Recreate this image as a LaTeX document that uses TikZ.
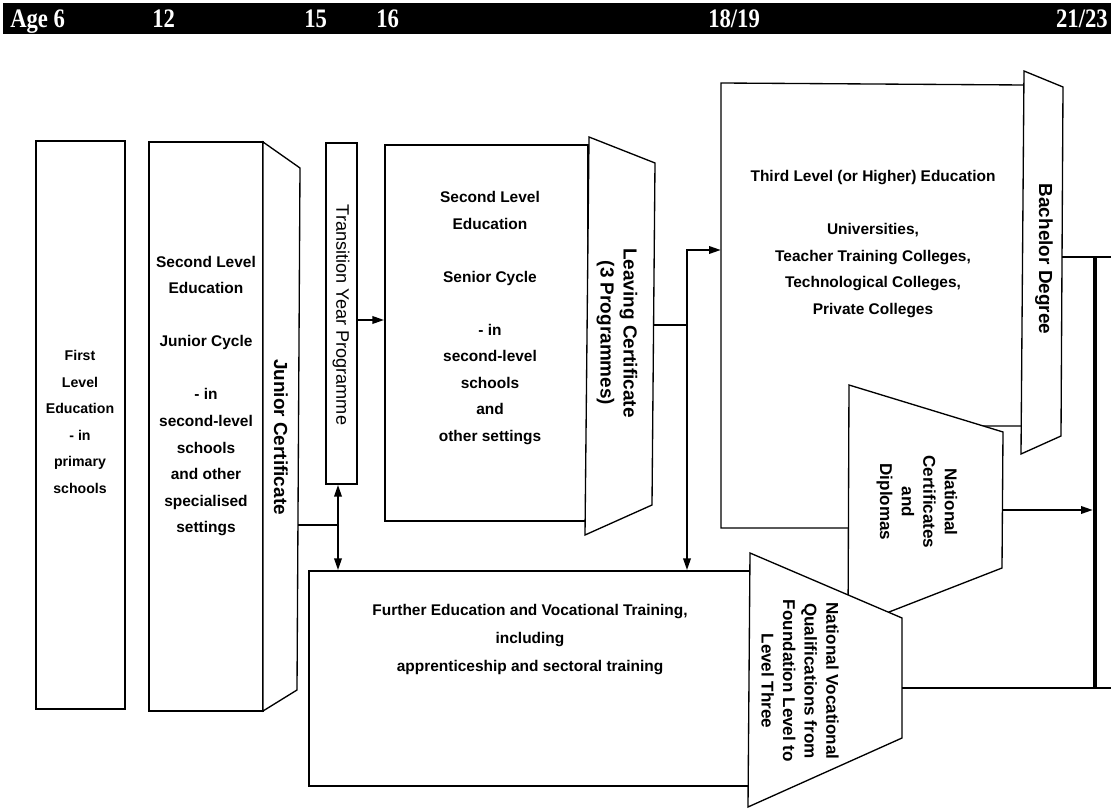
\documentclass[tikz,border=0pt]{standalone}
\usepackage{fontspec}
\setmainfont{Liberation Sans}
\newfontfamily\hdrfont{Liberation Serif}
\usetikzlibrary{arrows.meta,fit}
\begin{document}
\begin{tikzpicture}[x=0.75pt,y=-0.75pt,
  outline/.style={draw=black, line width=1pt, fill=white, line join=miter},
  rectbox/.style={outline, inner sep=0pt},
  link/.style={draw=black, line width=1.8pt},
  arr/.style={link, -{Triangle[length=9pt,width=5.5pt]}},
  body/.style={font=\fontsize{11.6pt}{19.9pt}\selectfont\bfseries, align=center, inner sep=0pt},
  smallbody/.style={font=\fontsize{10.6pt}{19.9pt}\selectfont\bfseries, align=center, inner sep=0pt},
  cert/.style={font=\fontsize{14.2pt}{17.3pt}\selectfont\bfseries, align=center, inner sep=0pt, rotate=-90},
  trtext/.style={font=\fontsize{13.6pt}{16pt}\selectfont, align=center, inner sep=0pt, rotate=-90},
  qual/.style={font=\fontsize{12.8pt}{16.2pt}\selectfont\bfseries, align=center, inner sep=0pt, rotate=-90},
  hdr/.style={font=\hdrfont\fontsize{20pt}{20pt}\selectfont\bfseries, text=white, inner sep=0pt}
]
\useasboundingbox (0,0) rectangle (1111,809);

% header bar
\node[fill=black, inner sep=0pt, fit={(3,3) (1111,34)}] (agebar) {};
\node[hdr, anchor=base west] (a6) at (10,28) {\scalebox{0.85}[1]{Age 6}};
\node[hdr, anchor=base west] (a12) at (152,28) {\scalebox{0.85}[1]{12}};
\node[hdr, anchor=base west] (a15) at (304,28) {\scalebox{0.85}[1]{15}};
\node[hdr, anchor=base west] (a16) at (376,28) {\scalebox{0.85}[1]{16}};
\node[hdr, anchor=base west] (a18) at (708,28) {\scalebox{0.85}[1]{18/19}};
\node[hdr, anchor=base east] (a21) at (1108,28) {\scalebox{0.85}[1]{21/23}};

% first level
\node[rectbox, fit={(36,141) (125,709)}] (first) {};
% junior cycle
\node[rectbox, fit={(149,142) (263,711)}] (junior) {};
\draw[outline] (263,142) -- (300,168) -- (297,690) -- (263,711) -- cycle;
% transition year
\node[rectbox, fit={(326,143) (357,484)}] (trans) {};
% senior cycle
\node[rectbox, fit={(385,145) (588,521)}] (senior) {};
% leaving certificate
\draw[outline] (589,137) -- (655,163) -- (652,505) -- (585,535) -- cycle;
% third level
\draw[outline] (721,83) -- (1024,85) -- (1024,426) -- (900,426) -- (900,528) -- (721,528) -- cycle;
% bachelor degree
\draw[outline] (1024,71) -- (1063,87) -- (1061,436) -- (1021,454) -- cycle;
% national certificates
\draw[outline] (849,385) -- (1003,432) -- (1002,568) -- (848,628) -- cycle;
% further education
\node[rectbox, fit={(309,571) (750,786)}] (fe) {};
% NVQ
\draw[outline] (750,553) -- (902,618) -- (902,738) -- (748,807) -- cycle;

% connection points
\coordinate (jcOut) at (298,525);
\coordinate (jc) at (338,525);
\coordinate (tyOut) at (357,320);
\coordinate (lcOut) at (654,325);
\coordinate (lcJ) at (687,325);
\coordinate (tlIn) at (721,250);
\coordinate (bdOut) at (1062,257);
\coordinate (bdEnd) at (1111,257);
\coordinate (ncOut) at (1003,510);
\coordinate (nvOut) at (902,688);
\coordinate (nvEnd) at (1111,688);
\coordinate (barTop) at (1095,257);
\coordinate (barBot) at (1095,688);

% connectors
\draw[link] (jcOut) -- (jc);
\draw[arr] (jc) -- (jc |- trans.south);
\draw[arr] (jc) -- (jc |- fe.north);
\draw[arr] (tyOut) -- (tyOut -| senior.west);
\draw[link] (lcOut) -- (lcJ);
\draw[arr] (lcJ) |- (tlIn);
\draw[arr] (lcJ) -- (lcJ |- fe.north);
\draw[link] (bdOut) -- (bdEnd);
\draw[link] (nvOut) -- (nvEnd);
\draw[arr] (ncOut) -- ([xshift=-1.5pt]ncOut -| barTop);
\draw[black, line width=3.5pt] (barTop) -- (barBot);

% texts
\node[smallbody] (firstT) at (80,422) {First\\Level\\Education\\- in\\primary\\schools};
\node[body] (juniorT) at (206,396) {Second Level\\Education\\[19.9pt]Junior Cycle\\[19.9pt]- in\\second-level\\schools\\and other\\specialised\\settings};
\node[cert] (jcT) at (281,437) {Junior Certificate};
\node[trtext] (transT) at (341,315) {Transition Year Programme};
\node[body] (seniorT) at (490,318) {Second Level\\Education\\[19.9pt]Senior Cycle\\[19.9pt]- in\\second-level\\schools\\and\\other settings};
\node[cert] (lcT) at (617,333) {Leaving Certificate\\(3 Programmes)};
\node[body] (thirdT) at (873,244) {Third Level (or Higher) Education\\[19.9pt]Universities,\\Teacher Training Colleges,\\Technological Colleges,\\Private Colleges};
\node[cert] (bdT) at (1044,259) {Bachelor Degree};
\node[qual] (ncT) at (917,502) {National\\Certificates\\and\\Diplomas};
\node[body, font=\fontsize{11.6pt}{21pt}\selectfont\bfseries] (feT) at (530,640) {Further Education and Vocational Training,\\including\\apprenticeship and sectoral training};
\node[qual] (nvT) at (800,681) {National Vocational\\Qualifications from\\Foundation Level to\\Level Three};
\end{tikzpicture}
\end{document}
